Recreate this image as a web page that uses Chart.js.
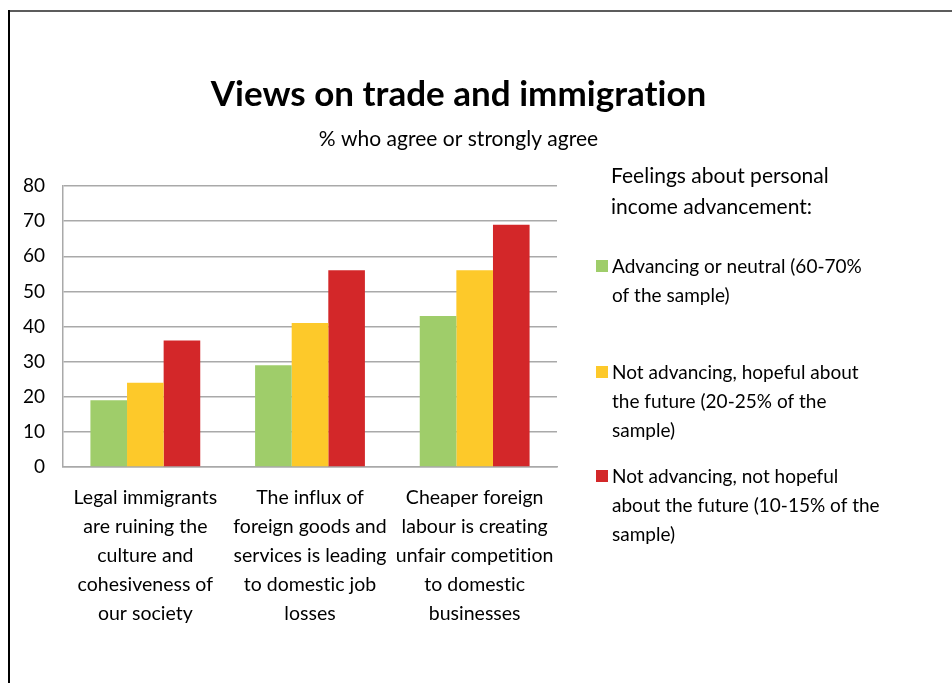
<!DOCTYPE html>
<html>
<head>
<meta charset="utf-8">
<title>Views on trade and immigration</title>
<style>
  html, body { margin: 0; padding: 0; background: #ffffff; }
  #wrap { position: relative; width: 952px; height: 683px; }
  canvas { display: block; }
</style>
<script src="https://cdn.jsdelivr.net/npm/chart.js@4/dist/chart.umd.min.js"></script>
</head>
<body>
<div id="wrap"><canvas id="chart" width="952" height="683"></canvas></div>
<script>
// ---- data ----
const chartTitle = 'Views on trade and immigration';
const chartSubtitle = '% who agree or strongly agree';
const legendHeading = ['Feelings about personal', 'income advancement:'];

const categories = [
  ['Legal immigrants', 'are ruining the', 'culture and', 'cohesiveness of', 'our society'],
  ['The influx of', 'foreign goods and', 'services is leading', 'to domestic job', 'losses'],
  ['Cheaper foreign', 'labour is creating', 'unfair competition', 'to domestic', 'businesses']
];

const seriesNames = [
  ['Advancing or neutral (60-70%', 'of the sample)'],
  ['Not advancing, hopeful about', 'the future (20-25% of the', 'sample)'],
  ['Not advancing, not hopeful', 'about the future (10-15% of the', 'sample)']
];

const advancingNeutral       = [19, 29, 43];
const notAdvancingHopeful    = [24, 41, 56];
const notAdvancingNotHopeful = [36, 56, 69];

const yTickValues = [0, 10, 20, 30, 40, 50, 60, 70, 80];

const seriesColors = ['#9FCD6A', '#FDC92A', '#D32729'];

// ---- styling ----
const FONT = 'Lato, "Open Sans", "Liberation Sans", sans-serif';
const GRID = '#a9a9a9';
// a tiny letter spacing keeps Lato from fusing "ti" into a ligature
const SPACING = '0.01px';

Chart.defaults.font.family = FONT;
Chart.defaults.color = '#000000';

// page frame (left and top rules)
const framePlugin = {
  id: 'frame',
  beforeDraw(chart) {
    const ctx = chart.ctx;
    ctx.save();
    ctx.fillStyle = '#ffffff';
    ctx.fillRect(0, 0, chart.width, chart.height);
    ctx.lineWidth = 2;
    ctx.strokeStyle = '#5c5c5c';
    ctx.beginPath(); ctx.moveTo(8, 11); ctx.lineTo(chart.width, 11); ctx.stroke();
    ctx.strokeStyle = '#000000';
    ctx.beginPath(); ctx.moveTo(9, 10); ctx.lineTo(9, chart.height); ctx.stroke();
    ctx.restore();
    // carried into the axis label drawing that follows
    if ('letterSpacing' in ctx) ctx.letterSpacing = SPACING;
  }
};

// heading and sub-heading centred over the plot
const headingPlugin = {
  id: 'heading',
  afterDraw(chart) {
    const ctx = chart.ctx;
    ctx.save();
    if ('letterSpacing' in ctx) ctx.letterSpacing = SPACING;
    ctx.fillStyle = '#000000';
    ctx.textAlign = 'center';
    ctx.textBaseline = 'alphabetic';
    ctx.font = 'bold 35px ' + FONT;
    ctx.fillText(chartTitle, 458.5, 106);
    ctx.font = '21px ' + FONT;
    ctx.fillText(chartSubtitle, 458.5, 146);
    ctx.restore();
  }
};

// legend block on the right, built from the datasets
const sideLegendPlugin = {
  id: 'sideLegend',
  afterDraw(chart) {
    const ctx = chart.ctx;
    const lineStep = 29;
    ctx.save();
    if ('letterSpacing' in ctx) ctx.letterSpacing = SPACING;
    ctx.fillStyle = '#000000';
    ctx.textAlign = 'left';
    ctx.textBaseline = 'alphabetic';
    ctx.font = '21px ' + FONT;
    legendHeading.forEach((line, i) => ctx.fillText(line, 611, 183 + i * 31));

    const firstBaselines = [273, 379, 483];
    ctx.font = '19px ' + FONT;
    chart.data.datasets.forEach((ds, i) => {
      const y0 = firstBaselines[i];
      ctx.fillStyle = ds.backgroundColor;
      ctx.fillRect(596, y0 - 13, 12, 12);
      ctx.fillStyle = '#000000';
      seriesNames[i].forEach((line, j) => ctx.fillText(line, 612, y0 + j * lineStep));
    });
    ctx.restore();
  }
};

new Chart(document.getElementById('chart'), {
  type: 'bar',
  data: {
    labels: categories,
    datasets: [
      { label: seriesNames[0].join(' '), data: advancingNeutral, backgroundColor: seriesColors[0] },
      { label: seriesNames[1].join(' '), data: notAdvancingHopeful, backgroundColor: seriesColors[1] },
      { label: seriesNames[2].join(' '), data: notAdvancingNotHopeful, backgroundColor: seriesColors[2] }
    ]
  },
  options: {
    responsive: false,
    animation: false,
    devicePixelRatio: 1,
    events: [],
    layout: { padding: { left: 0, right: 395, top: 186, bottom: 0 } },
    datasets: {
      bar: { barPercentage: 1.0, categoryPercentage: 0.667, borderWidth: 0 }
    },
    plugins: {
      legend: { display: false },
      title: { display: false },
      tooltip: { enabled: false }
    },
    scales: {
      x: {
        grid: { display: false, drawTicks: false },
        border: { display: true, color: GRID, width: 1.5 },
        ticks: {
          font: { size: 19.5, lineHeight: 1.49 },
          color: '#000000',
          padding: 16,
          maxRotation: 0,
          autoSkip: false
        },
        afterFit(scale) { scale.height = 683 - 467; }
      },
      y: {
        min: 0,
        max: 80,
        afterBuildTicks(scale) { scale.ticks = yTickValues.map(v => ({ value: v })); },
        grid: { color: GRID, lineWidth: 1.5, drawTicks: false },
        border: { display: true, color: GRID, width: 1.5 },
        ticks: {
          font: { size: 19 },
          color: '#000000',
          padding: 18
        },
        afterFit(scale) { scale.width = 63; }
      }
    }
  },
  plugins: [framePlugin, headingPlugin, sideLegendPlugin]
});
</script>
</body>
</html>
